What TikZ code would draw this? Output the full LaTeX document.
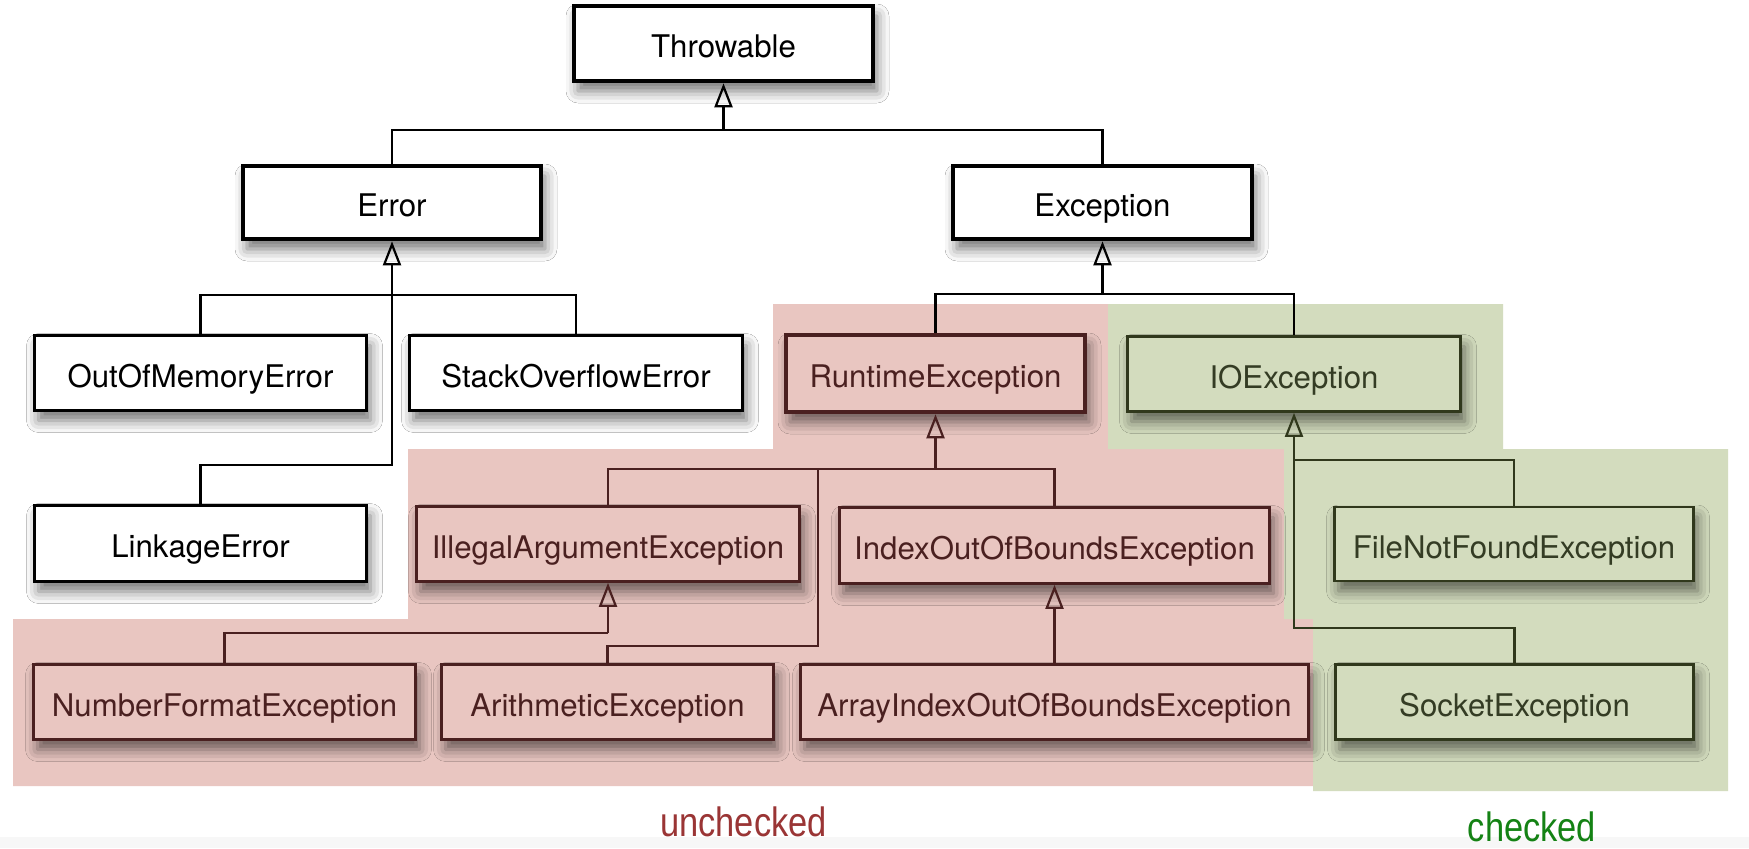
\documentclass[tikz,border=0pt]{standalone}
\usepackage{fontspec}
\usepackage{graphicx}
\setmainfont{TeX Gyre Heros}
\newfontfamily\labfont{Liberation Sans}
\usetikzlibrary{arrows.meta,shadows.blur}
\definecolor{pinkbg}{RGB}{233,198,193}
\definecolor{greenbg}{RGB}{211,220,190}
\definecolor{redline}{RGB}{74,32,32}
\definecolor{greenline}{RGB}{48,56,28}
\definecolor{greentext}{RGB}{52,60,36}
\definecolor{bandgray}{RGB}{247,247,247}
\definecolor{uncheckedcol}{RGB}{154,53,53}
\definecolor{checkedcol}{RGB}{20,130,20}
\tikzset{
  boxbase/.style={rectangle, inner sep=0pt, align=center,
    text height=14pt, text depth=0pt,
    font=\fontsize{15.6pt}{18pt}\selectfont,
    blur shadow={shadow xshift=2pt, shadow yshift=-5pt, shadow blur radius=6pt, shadow opacity=55}},
  boxw/.style={boxbase, draw=black, fill=white, text=black, line width=1.35pt},
  boxwthick/.style={boxw, line width=2.3pt},
  boxr/.style={boxbase, draw=redline, fill=pinkbg, text=redline, line width=1.35pt},
  boxrthick/.style={boxr, line width=2.3pt},
  boxg/.style={boxbase, draw=greenline, fill=greenbg, text=greentext, line width=1.35pt},
  conn/.style={line width=1.1pt, draw=black},
  connr/.style={line width=1.1pt, draw=redline},
  conng/.style={line width=1.1pt, draw=greenline},
  inh/.style={-{Triangle[open, length=12pt, width=9pt]}},
  lab/.style={anchor=base, inner sep=0pt, font=\labfont\fontsize{20.5pt}{24pt}\selectfont}
}
\begin{document}
\begin{tikzpicture}[x=0.5pt,y=-0.5pt]
\useasboundingbox (0,0) rectangle (1749,848);
\fill[white] (0,0) rectangle (1749,848);
% background regions
\fill[pinkbg] (773,304) -- (1108,304) -- (1108,449) -- (1284,449) -- (1284,619) -- (1313,619) -- (1313,786) -- (13,786) -- (13,619) -- (408,619) -- (408,449) -- (773,449) -- cycle;
\fill[greenbg] (1108,304) -- (1503,304) -- (1503,449) -- (1728,449) -- (1728,791) -- (1313,791) -- (1313,619) -- (1284,619) -- (1284,449) -- (1108,449) -- cycle;
\fill[bandgray] (0,837) rectangle (1749,848);

% nodes
\node[boxwthick, minimum width=149.5pt, minimum height=37.5pt] (thr) at (723.5,43.5) {Throwable};
\node[boxwthick, minimum width=149pt, minimum height=36.5pt] (err) at (392,202.5) {Error};
\node[boxwthick, minimum width=149.5pt, minimum height=36.5pt] (exc) at (1102.5,202.5) {Exception};
\node[boxw, minimum width=166pt, minimum height=37.5pt] (oom) at (200.5,373) {OutOfMemoryError};
\node[boxw, minimum width=166.5pt, minimum height=37.5pt] (sof) at (576,373) {StackOverflowError};
\node[boxrthick, minimum width=149.5pt, minimum height=38.5pt] (rte) at (935.5,373.5) {RuntimeException};
\node[boxg, minimum width=166.5pt, minimum height=37.5pt] (ioe) at (1294,374) {IOException};
\node[boxw, minimum width=166pt, minimum height=38pt] (lnk) at (200.5,543.5) {LinkageError};
\node[boxr, minimum width=191.5pt, minimum height=37.5pt] (iae) at (608,544) {IllegalArgumentException};
\node[boxr, minimum width=215pt, minimum height=38pt] (ioob) at (1054.5,545.5) {IndexOutOfBoundsException};
\node[boxg, minimum width=179.5pt, minimum height=37pt] (fnf) at (1514,544) {FileNotFoundException};
\node[boxr, minimum width=191pt, minimum height=37.5pt] (nfe) at (224.5,702) {NumberFormatException};
\node[boxr, minimum width=166pt, minimum height=37.5pt] (ari) at (607.5,702) {ArithmeticException};
\node[boxr, minimum width=254pt, minimum height=37.5pt] (aioob) at (1054.5,702) {ArrayIndexOutOfBoundsException};
\node[boxg, minimum width=179pt, minimum height=37.5pt] (soc) at (1514.5,702) {SocketException};

% junction coordinates
\coordinate (tj) at (723.5,130);
\coordinate (ej) at (392,295);
\coordinate (el) at (392,465);
\coordinate (xj) at (1102.5,294);
\coordinate (rj) at (935.5,469);
\coordinate (ra1) at (818,469);
\coordinate (ra2) at (818,646);
\coordinate (ij) at (608,633);
\coordinate (oj) at (1294,460);
\coordinate (ol) at (1294,628);

% connectors
\draw[conn] (err.north) |- (tj) -| (exc.north);
\draw[conn, inh] (tj) -- (thr.south);

\draw[conn] (oom.north) |- (ej) -| (sof.north);
\draw[conn] (ej) -- (el) -| (lnk.north);
\draw[conn, inh] (ej) -- (err.south);

\draw[conn] (rte.north) |- (xj) -| (ioe.north);
\draw[conn, inh] (xj) -- (exc.south);

\draw[connr] (iae.north) |- (rj) -| (ioob.north);
\draw[connr] (ra1) -- (ra2) -| (ari.north);
\draw[connr, inh] (rj) -- (rte.south);

\draw[connr] (nfe.north) |- (ij);
\draw[connr, inh] (ij) -- (iae.south);

\draw[connr, inh] (aioob.north) -- (ioob.south);

\draw[conng] (oj) -| (fnf.north);
\draw[conng] (oj) -- (ol) -| (soc.north);
\draw[conng, inh] (oj) -- (ioe.south);

% labels
\node[lab, text=uncheckedcol] (ulab) at (743.5,836) {\scalebox{0.84}[1]{unchecked}};
\node[lab, text=checkedcol] (clab) at (1532,841) {\scalebox{0.84}[1]{checked}};
\end{tikzpicture}
\end{document}
